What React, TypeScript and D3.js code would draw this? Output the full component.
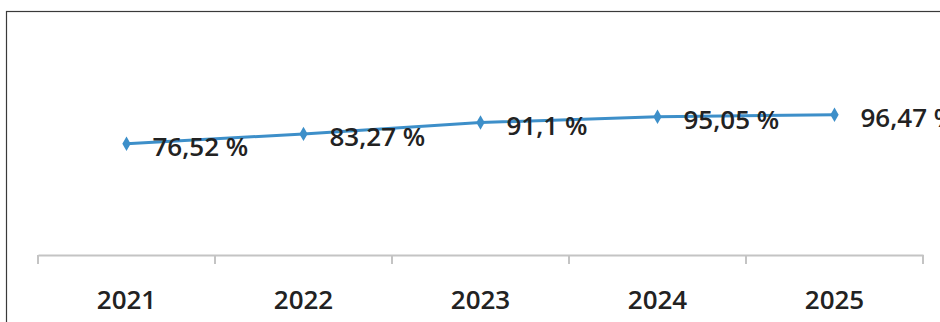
import { useEffect, useRef } from 'react';
import * as d3 from 'd3';

const years = ['2021', '2022', '2023', '2024', '2025'];
const values = [76.52, 83.27, 91.1, 95.05, 96.47];
const labels = ['76,52 %', '83,27 %', '91,1 %', '95,05 %', '96,47 %'];

const WIDTH = 940;
const HEIGHT = 322;
const FONT = "'Open Sans', 'DejaVu Sans', sans-serif";

export default function App() {
    const svgRef = useRef<SVGSVGElement>(null);

    useEffect(() => {
        if (!svgRef.current) return;
        const svg = d3.select(svgRef.current);
        svg.selectAll('*').remove();

        // frame (cropped on the right and bottom)
        svg.append('rect')
            .attr('x', 6.5).attr('y', 11.5)
            .attr('width', WIDTH + 20).attr('height', HEIGHT + 20)
            .attr('fill', 'white')
            .attr('stroke', '#3a3a3a')
            .attr('stroke-width', 1.2);

        const xScale = d3.scaleBand<string>().domain(years).range([38, 923]);
        const yScale = d3.scaleLinear().domain([0, 120]).range([255, 80.5]);

        const cx = (d: string) => (xScale(d) ?? 0) + xScale.bandwidth() / 2;

        // x axis
        const xAxis = d3.axisBottom(xScale).tickSize(0).tickPadding(0);
        const ax = svg.append('g')
            .attr('transform', `translate(0,${yScale(0)})`)
            .call(xAxis);
        ax.select('.domain').attr('stroke', '#c4c4c4').attr('stroke-width', 2);
        ax.selectAll('.tick text')
            .attr('y', 54)
            .attr('dy', 0)
            .attr('fill', '#222')
            .attr('font-family', FONT)
            .attr('font-size', '26px')
            .attr('font-weight', 600);

        // category boundary ticks
        const edges = [...years.map((y) => xScale(y) ?? 0), 923];
        svg.append('g').selectAll('line')
            .data(edges)
            .join('line')
            .attr('x1', (d) => d).attr('x2', (d) => d)
            .attr('y1', yScale(0)).attr('y2', yScale(0) + 9)
            .attr('stroke', '#c4c4c4')
            .attr('stroke-width', 2);

        const data = years.map((y, i) => ({ year: y, value: values[i], label: labels[i] }));

        const line = d3.line<{ year: string; value: number }>()
            .x((d) => cx(d.year))
            .y((d) => yScale(d.value));

        svg.append('path')
            .datum(data)
            .attr('fill', 'none')
            .attr('stroke', '#3d8fc9')
            .attr('stroke-width', 3)
            .attr('d', line);

        svg.append('g').selectAll('path')
            .data(data)
            .join('path')
            .attr('d', d3.symbol(d3.symbolDiamond, 60)())
            .attr('transform', (d) => `translate(${cx(d.year)},${yScale(d.value)})`)
            .attr('fill', '#3d8fc9');

        svg.append('g').selectAll('text')
            .data(data)
            .join('text')
            .attr('x', (d) => cx(d.year) + 26)
            .attr('y', (d) => yScale(d.value) + 12)
            .attr('fill', '#222')
            .attr('font-family', FONT)
            .attr('font-size', '26px')
            .attr('font-weight', 600)
            .text((d) => d.label);
    }, []);

    return (
        <svg
            ref={svgRef}
            width={WIDTH}
            height={HEIGHT}
            style={{ position: 'absolute', left: 0, top: 0, background: 'white' }}
        />
    );
}
